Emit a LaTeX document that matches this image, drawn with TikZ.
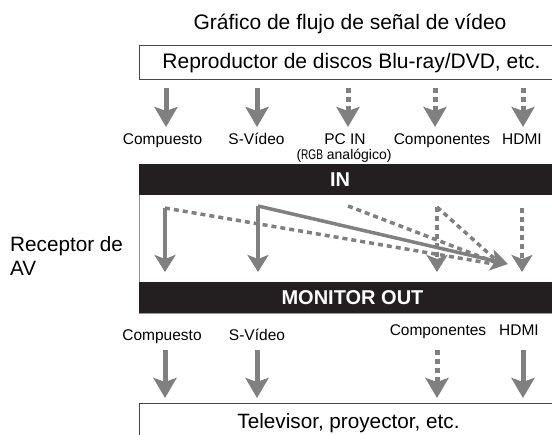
\documentclass[tikz,border=0pt]{standalone}
\usepackage{fontspec}
\usepackage{graphicx}
\setmainfont{Liberation Sans}
\usetikzlibrary{arrows.meta}
\definecolor{ag}{RGB}{128,128,128}
\definecolor{barc}{RGB}{35,31,32}
\definecolor{boxc}{RGB}{70,70,70}
\definecolor{recc}{RGB}{150,150,150}
\begin{document}
\begin{tikzpicture}[x=1pt,y=-1pt,
  big/.style={font=\fontsize{21}{24}\selectfont, inner sep=0pt},
  lab/.style={font=\fontsize{15.5}{18}\selectfont, inner sep=0pt, anchor=base},
  bartext/.style={font=\fontsize{20}{24}\selectfont\bfseries, text=white, inner sep=0pt, anchor=base},
  flow/.style={draw=ag, line width=5pt, -{Stealth[length=20pt,width=23pt,inset=4pt]}},
  dflow/.style={flow, dash pattern=on 5pt off 4pt},
  iflow/.style={draw=ag, line width=3.5pt, -{Stealth[length=17pt,width=21pt,inset=4pt]}},
  idflow/.style={iflow, dash pattern=on 5pt off 4pt},
  idline/.style={draw=ag, line width=3.5pt, dash pattern=on 5pt off 4pt},
  boxline/.style={draw=boxc, line width=1.2pt},
]
\useasboundingbox (0,0) rectangle (552,435);
\clip (0,0) rectangle (552,435);
\fill[white] (0,0) rectangle (552,435);

% title
\node[big, anchor=base] (title) at (350,30) {Gráfico de flujo de señal de vídeo};

% player box
\node[boxline, draw, minimum width=414pt, minimum height=34pt, anchor=north west, inner sep=0pt] (player) at (139,45) {};
\node[big, anchor=base] (playertext) at (351.5,69) {Reproductor de discos Blu-ray/DVD, etc.};

% top labels
\node[lab] (lcomp) at (162.5,145) {Compuesto};
\node[lab] (lsvid) at (256.5,145) {S-Vídeo};
\node[lab] (lpc) at (345,145) {PC IN};
\node[lab, font=\fontsize{14}{16}\selectfont] (lrgb) at (344,159.5) {(\scalebox{0.72}[1]{RGB} analógico)};
\node[lab] (lcpt) at (442,145) {Componentes};
\node[lab] (lhdmi) at (522,145) {HDMI};

% top arrows
\foreach \n/\x in {a/166,b/257,c/348,d/435,e/523}{
  \coordinate (t\n s) at (\x,88);
  \coordinate (t\n e) at (\x,127);
}
\draw[flow] (tas) -- (tae);
\draw[flow] (tbs) -- (tbe);
\draw[dflow] (tcs) -- (tce);
\draw[dflow] (tds) -- (tde);
\draw[dflow] (tes) -- (tee);

% receptor box
\node[draw=recc, line width=1pt, minimum width=414pt, minimum height=149pt, anchor=north west, inner sep=0pt] (recv) at (139,164) {};
\node[fill=barc, minimum width=414pt, minimum height=31pt, anchor=north west, inner sep=0pt] (inbar) at (139,164) {};
\node[fill=barc, minimum width=414pt, minimum height=31pt, anchor=north west, inner sep=0pt] (outbar) at (139,282) {};
\node[bartext] (intext) at (340,187) {IN};
\node[bartext] (outtext) at (352.5,305) {MONITOR OUT};

\node[font=\fontsize{20.7}{24}\selectfont, inner sep=0pt, anchor=base west] (rl1) at (10,252) {Receptor de};
\node[font=\fontsize{20.7}{24}\selectfont, inner sep=0pt, anchor=base west] (rl2) at (10,276) {AV};

% interior
\coordinate (ca) at (165,208);
\coordinate (cae) at (165,272);
\coordinate (sa) at (258,206);
\coordinate (sae) at (258,272);
\coordinate (pa) at (348,206);
\coordinate (ka) at (437,207);
\coordinate (kae) at (437,272);
\coordinate (ha) at (522,208);
\coordinate (hae) at (522,272);
\coordinate (conv) at (508,264);
\coordinate (cv1) at (500,265);
\coordinate (cv2) at (497,263);
\coordinate (cv3) at (497,261);

\draw[idline] (ca) -- (cv1);
\draw[idline] (pa) -- (cv2);
\draw[idline] (ka) -- (cv3);
\draw[idflow] (ka) -- (kae);
\draw[idflow] (ha) -- (hae);
\draw[iflow] (ca) -- (cae);
\draw[iflow] (sa) -- (sae);
\draw[iflow] (sa) -- (conv);

% bottom labels
\node[lab] (bcomp) at (162,341) {Compuesto};
\node[lab] (bsvid) at (257,341) {S-Vídeo};
\node[lab] (bcpt) at (438,336) {Componentes};
\node[lab] (bhdmi) at (519,336) {HDMI};

\foreach \n/\x in {a/165,b/257,d/437,e/523}{
  \coordinate (b\n s) at (\x,350);
  \coordinate (b\n e) at (\x,398);
}
\draw[flow] (bas) -- (bae);
\draw[flow] (bbs) -- (bbe);
\draw[dflow] (bds) -- (bde);
\draw[flow] (bes) -- (bee);

% TV box
\node[boxline, draw, minimum width=414pt, minimum height=45pt, anchor=north west, inner sep=0pt] (tv) at (139,403) {};
\node[big, font=\fontsize{20.7}{24}\selectfont, anchor=base] (tvtext) at (348.5,429) {Televisor, proyector, etc.};
\end{tikzpicture}
\end{document}
